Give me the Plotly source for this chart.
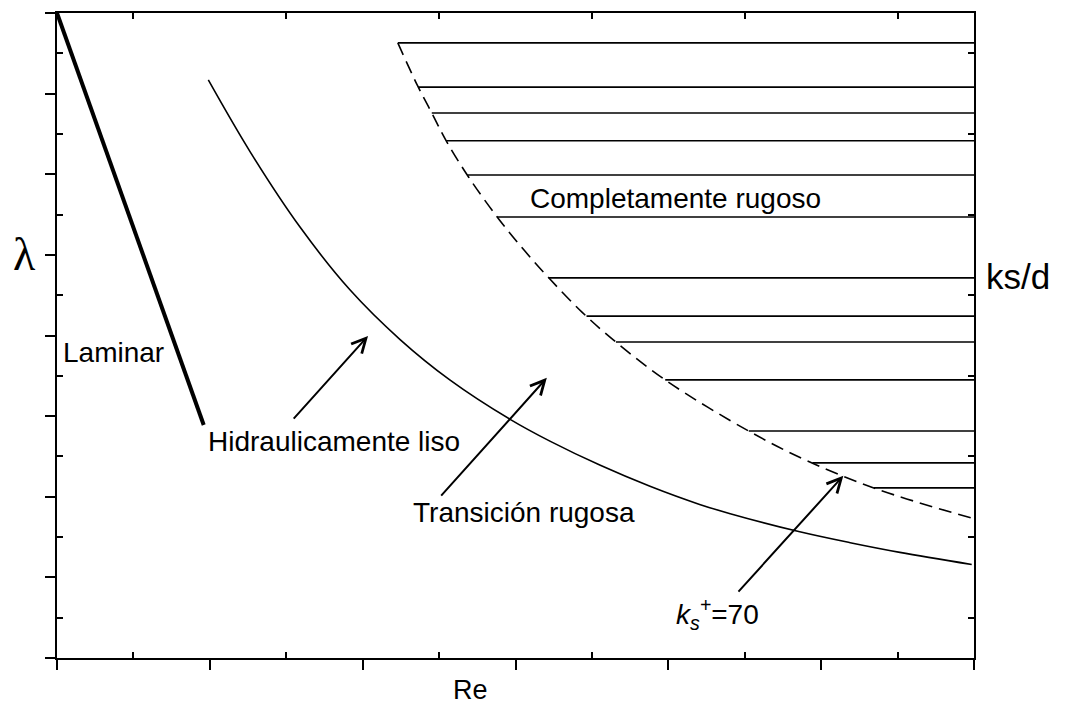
import numpy as np
import plotly.graph_objects as go

# Schematic Moody diagram: Re on a log-like axis (arbitrary units), friction factor lambda
re_laminar = [0.0, 1.92]
lam_laminar = [16.0, 5.78]

# hydraulically smooth curve
re_smooth = [1.98, 2.53, 3.18, 3.83, 4.49, 5.14, 5.93, 6.45, 7.11, 7.76,
             8.41, 8.81, 9.72, 10.38, 11.03, 11.97]
lam_smooth = [14.34, 12.55, 10.69, 9.14, 7.90, 6.90, 5.92, 5.38, 4.78, 4.26,
              3.81, 3.58, 3.13, 2.86, 2.62, 2.32]

# ks+ = 70 boundary between transitional and fully rough flow
re_ks70 = [4.46, 4.72, 4.91, 5.09, 5.39, 5.78, 6.12, 6.45, 6.87, 7.28, 7.98,
           9.07, 9.82, 10.73, 11.97]
lam_ks70 = [15.26, 14.19, 13.50, 12.84, 11.92, 10.89, 10.10, 9.40, 8.58, 7.89, 6.87,
            5.61, 4.89, 4.19, 3.47]

# fully rough plateaus, one per relative roughness ks/d
lam_rough = [15.26, 14.16, 13.52, 12.83, 11.98, 10.94, 9.43, 8.48, 7.84, 6.90, 5.63, 4.84, 4.22]

# pointer arrows (tail -> head)
arrow_tail_re = [3.08, 5.01, 8.90]
arrow_tail_lam = [5.90, 3.99, 1.61]
arrow_head_re = [4.07, 6.41, 10.29]
arrow_head_lam = [7.99, 6.95, 4.52]

# region labels
region_text = ["Laminar", "Hidraulicamente liso", "Transición rugosa", "Completamente rugoso",
               "<i>k<sub>s</sub><sup>+</sup></i>=70"]
region_re = [0.05, 1.95, 4.63, 6.16, 8.08]
region_lam = [7.59, 5.36, 3.62, 11.39, 1.10]

RE_MAX = 12
LAM_MAX = 16
FONT = "Liberation Sans, Arial, sans-serif"

fig = go.Figure()

fig.add_trace(go.Scatter(x=re_laminar, y=lam_laminar, mode="lines",
                         line=dict(color="black", width=4), cliponaxis=False))
fig.add_trace(go.Scatter(x=re_smooth, y=lam_smooth, mode="lines",
                         line=dict(color="black", width=1.6, shape="spline", smoothing=1.0)))
fig.add_trace(go.Scatter(x=re_ks70, y=lam_ks70, mode="lines",
                         line=dict(color="black", width=1.6, dash="13px,7px",
                                   shape="spline", smoothing=1.0)))

# each plateau starts on the ks+ = 70 boundary and runs to the right edge
lam_sorted = np.array(lam_ks70[::-1])
re_sorted = np.array(re_ks70[::-1])
for lam in lam_rough:
    re_start = float(np.interp(lam, lam_sorted, re_sorted))
    fig.add_trace(go.Scatter(x=[re_start, RE_MAX], y=[lam, lam], mode="lines",
                             line=dict(color="black", width=1.6)))

# dummy trace so the mirrored top/right axes are drawn
fig.add_trace(go.Scatter(x=[None], y=[None], xaxis="x2", yaxis="y2"))

annotations = []
for tx, ty, hx, hy in zip(arrow_tail_re, arrow_tail_lam, arrow_head_re, arrow_head_lam):
    annotations.append(dict(x=hx, y=hy, ax=tx, ay=ty, xref="x", yref="y",
                            axref="x", ayref="y", text="", showarrow=True,
                            arrowhead=5, arrowsize=1.4, arrowwidth=2,
                            arrowcolor="black", standoff=0, startstandoff=0))
for t, x, y in zip(region_text, region_re, region_lam):
    annotations.append(dict(x=x, y=y, xref="x", yref="y", text=t, showarrow=False,
                            xanchor="left", yanchor="middle",
                            font=dict(family=FONT, size=28, color="black")))

# axis names
annotations.append(dict(x=0.4504, y=-0.05, xref="paper", yref="paper", text="Re",
                        showarrow=False, xanchor="center", yanchor="middle",
                        font=dict(family=FONT, size=27, color="black")))
annotations.append(dict(x=1.011, y=0.591, xref="paper", yref="paper", text="ks/d",
                        showarrow=False, xanchor="left", yanchor="middle",
                        font=dict(family=FONT, size=35, color="black")))
annotations.append(dict(x=-0.035, y=0.625, xref="paper", yref="paper", text="λ",
                        showarrow=False, xanchor="center", yanchor="middle",
                        font=dict(family="Liberation Serif, Times New Roman, serif",
                                  size=46, color="black")))

axis_common = dict(showgrid=False, zeroline=False, showticklabels=False,
                   showline=True, linecolor="black", linewidth=2)

fig.update_layout(
    width=1065, height=704,
    margin=dict(l=57, r=91, t=13, b=46),
    paper_bgcolor="white", plot_bgcolor="white",
    showlegend=False,
    annotations=annotations,
    xaxis=dict(range=[0, RE_MAX], tickvals=list(range(0, RE_MAX + 1, 2)),
               ticks="outside", ticklen=10, tickwidth=2, tickcolor="black",
               minor=dict(tickvals=list(range(1, RE_MAX, 2)), ticks="inside",
                          ticklen=6, tickwidth=1.5, tickcolor="black", showgrid=False),
               **axis_common),
    yaxis=dict(range=[0, LAM_MAX], tickvals=list(range(0, LAM_MAX + 1, 2)),
               ticks="outside", ticklen=10, tickwidth=2, tickcolor="black",
               minor=dict(tickvals=list(range(1, LAM_MAX, 2)), ticks="inside",
                          ticklen=6, tickwidth=1.5, tickcolor="black", showgrid=False),
               **axis_common),
    xaxis2=dict(range=[0, RE_MAX], overlaying="x", side="top", anchor="y2",
                tickvals=list(range(1, RE_MAX, 2)), ticks="inside", ticklen=6,
                tickwidth=1.5, tickcolor="black", **axis_common),
    yaxis2=dict(range=[0, LAM_MAX], overlaying="y", side="right", anchor="x2",
                tickvals=list(range(1, LAM_MAX, 2)), ticks="inside", ticklen=6,
                tickwidth=1.5, tickcolor="black", **axis_common),
)

fig.write_html("out.html")
